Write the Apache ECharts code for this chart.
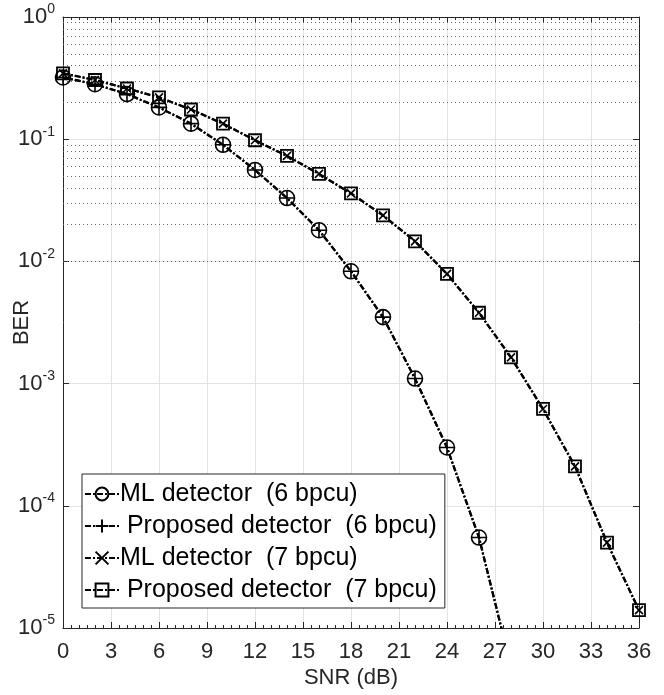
<!DOCTYPE html>
<html>
<head>
<meta charset="utf-8">
<script src="https://cdn.jsdelivr.net/npm/echarts@6/dist/echarts.min.js"></script>
<style>
  html, body { margin: 0; padding: 0; background: #fff; }
  #main { width: 664px; height: 695px; }
</style>
</head>
<body>
<div id="main"></div>
<script>
// SNR points (dB)
var snr6 = [0, 2, 4, 6, 8, 10, 12, 14, 16, 18, 20, 22, 24, 26, 28];
var snr7 = [0, 2, 4, 6, 8, 10, 12, 14, 16, 18, 20, 22, 24, 26, 28, 30, 32, 34, 36];

// BER values
var ml6   = [0.32, 0.282, 0.234, 0.182, 0.134, 0.090, 0.056, 0.033, 0.018, 0.0083, 0.0035, 0.0011, 3.0e-4, 5.5e-5, 4.8e-6];
var prop6 = [0.32, 0.282, 0.234, 0.182, 0.134, 0.090, 0.056, 0.033, 0.018, 0.0083, 0.0035, 0.0011, 3.0e-4, 5.5e-5, 4.8e-6];
var ml7   = [0.346, 0.305, 0.26, 0.22, 0.175, 0.134, 0.098, 0.073, 0.052, 0.036, 0.0238, 0.0146, 0.0079, 0.0038, 0.00164, 6.2e-4, 2.1e-4, 5.0e-5, 1.4e-5];
var prop7 = [0.346, 0.305, 0.26, 0.22, 0.175, 0.134, 0.098, 0.073, 0.052, 0.036, 0.0238, 0.0146, 0.0079, 0.0038, 0.00164, 6.2e-4, 2.1e-4, 5.0e-5, 1.4e-5];

var names = [
    'ML detector  (6 bpcu)',
    ' Proposed detector  (6 bpcu)',
    'ML detector  (7 bpcu)',
    ' Proposed detector  (7 bpcu)'
];

var FONT = 'Liberation Sans';
var DARK = '#262626';
var DASH = [6, 2, 2, 2];

function pairs(xs, ys) {
    return xs.map(function (x, i) { return [x, ys[i]]; });
}

// minor grid lines at 2..9 x 10^k
var minorLines = [];
for (var k = -5; k < 0; k++) {
    for (var m = 2; m <= 9; m++) {
        minorLines.push({ yAxis: m * Math.pow(10, k) });
    }
}

function mkSeries(name, xs, ys, symbol, size, bw) {
    return {
        name: name,
        type: 'line',
        xAxisIndex: 0,
        yAxisIndex: 0,
        data: pairs(xs, ys),
        symbol: symbol,
        symbolSize: size,
        showAllSymbol: true,
        clip: true,
        z: 5,
        lineStyle: { color: '#000', width: 2.2, type: DASH },
        itemStyle: { color: 'rgba(0,0,0,0)', borderColor: '#000', borderWidth: bw },
        emphasis: { disabled: true }
    };
}

var myChart = echarts.init(document.getElementById('main'));

var option = {
    animation: false,
    backgroundColor: '#fff',
    textStyle: { fontFamily: FONT },
    grid: { left: 63, right: 25, top: 17, bottom: 67, containLabel: false, outerBoundsMode: 'none' },
    legend: {
        orient: 'vertical',
        left: 82,
        top: 474,
        padding: [6, 8, 4, 2],
        itemGap: 4,
        itemWidth: 34,
        itemHeight: 16,
        backgroundColor: '#fff',
        borderColor: DARK,
        borderWidth: 1,
        borderRadius: 0,
        textStyle: { fontFamily: FONT, fontSize: 25, lineHeight: 28, color: '#000', padding: [0, 0, 0, -4] },
        data: names
    },
    xAxis: [{
        type: 'value',
        min: 0,
        max: 36,
        interval: 3,
        name: 'SNR (dB)',
        nameLocation: 'middle',
        nameGap: 39,
        nameMoveOverlap: false,
        nameTextStyle: { fontSize: 22, color: DARK, fontFamily: FONT },
        axisLine: { show: true, onZero: false, lineStyle: { color: DARK, width: 1 } },
        axisTick: { show: true, inside: true, length: 6, lineStyle: { color: DARK } },
        minorTick: { show: true, splitNumber: 6, length: 3, lineStyle: { color: DARK } },
        axisLabel: { fontSize: 22, color: DARK, margin: 13, fontFamily: FONT },
        splitLine: { show: true, lineStyle: { color: '#e3e3e3', width: 1 } }
    }, {
        type: 'value',
        position: 'top',
        min: 0,
        max: 36,
        interval: 3,
        axisLine: { show: true, onZero: false, lineStyle: { color: DARK, width: 1 } },
        axisTick: { show: true, inside: true, length: 6, lineStyle: { color: DARK } },
        minorTick: { show: true, splitNumber: 6, length: 3, lineStyle: { color: DARK } },
        axisLabel: { show: false },
        splitLine: { show: false }
    }],
    yAxis: [{
        type: 'log',
        logBase: 10,
        min: 1e-5,
        max: 1,
        name: 'BER',
        nameLocation: 'middle',
        nameGap: 30,
        nameMoveOverlap: false,
        nameTextStyle: { fontSize: 22, color: DARK, fontFamily: FONT },
        axisLine: { show: true, onZero: false, lineStyle: { color: DARK, width: 1 } },
        axisTick: { show: true, inside: true, length: 6, lineStyle: { color: DARK } },
        axisLabel: {
            margin: 8,
            color: DARK,
            formatter: function (v) {
                var e = Math.round(Math.log10(v));
                return '{b|10}{s|' + e + '}';
            },
            rich: {
                b: { fontSize: 22, fontFamily: FONT, color: DARK },
                s: { fontSize: 14, fontFamily: FONT, color: DARK, padding: [0, 0, 15, 0] }
            }
        },
        splitLine: { show: true, lineStyle: { color: '#e3e3e3', width: 1 } }
    }, {
        type: 'log',
        logBase: 10,
        min: 1e-5,
        max: 1,
        position: 'right',
        axisLine: { show: true, onZero: false, lineStyle: { color: DARK, width: 1 } },
        axisTick: { show: true, inside: true, length: 6, lineStyle: { color: DARK } },
        axisLabel: { show: false },
        splitLine: { show: false }
    }],
    series: [
        {
            name: 'minor-grid',
            type: 'line',
            data: [],
            silent: true,
            markLine: {
                silent: true,
                symbol: ['none', 'none'],
                label: { show: false },
                lineStyle: { color: '#666', width: 1, type: [1, 3] },
                data: minorLines
            }
        },
        mkSeries(names[0], snr6, ml6, 'circle', 15, 1.6),
        mkSeries(names[1], snr6, prop6, 'path://M0,-10L0,10M-10,0L10,0', 15, 1.6),
        mkSeries(names[2], snr7, ml7, 'path://M-10,-10L10,10M-10,10L10,-10', 8, 1.6),
        mkSeries(names[3], snr7, prop7, 'rect', 12, 1.8)
    ]
};

myChart.setOption(option);
</script>
</body>
</html>
